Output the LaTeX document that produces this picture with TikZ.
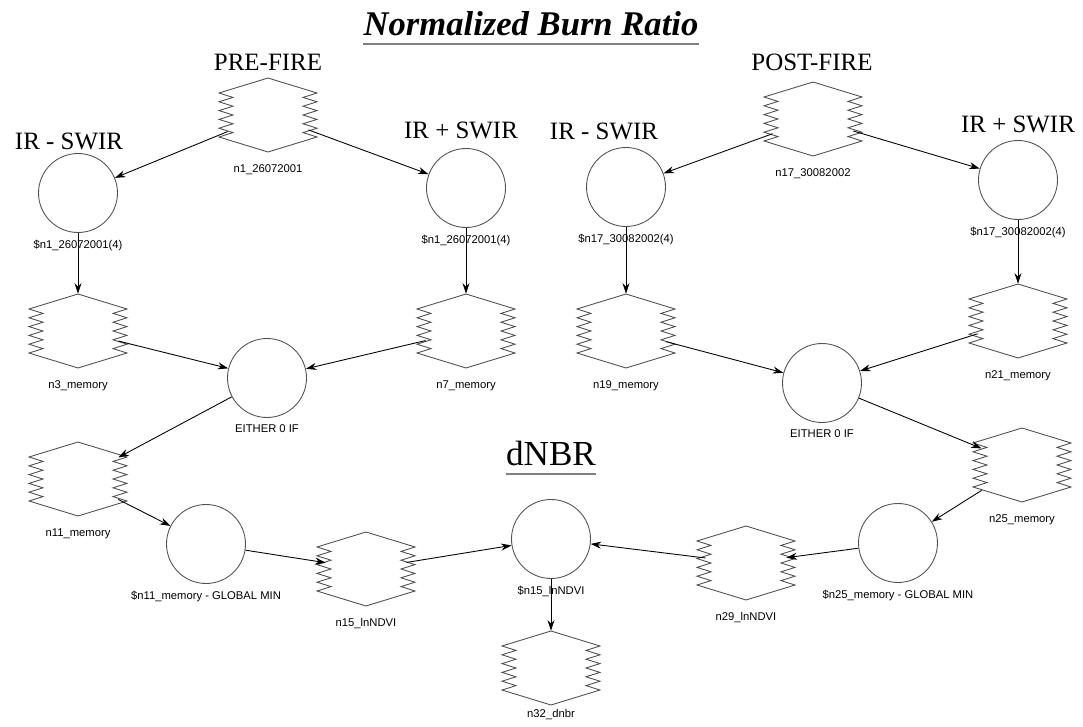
\documentclass[tikz,border=0pt]{standalone}
\usepackage{fontspec}
\setmainfont{Liberation Serif}
\setsansfont{Liberation Sans}
\usetikzlibrary{arrows.meta,calc,positioning}
\definecolor{shapeColor}{RGB}{80,80,80}
\definecolor{ruleColor}{RGB}{128,128,128}
\tikzset{memory/.style={minimum width=1.6cm, minimum height=1.48cm, inner sep=0pt}}
\tikzset{operation/.style={circle, draw=shapeColor, line width=0.5pt, minimum size=1.58cm, inner sep=0pt}}
\tikzset{tag/.style={font=\sffamily\fontsize{6.4}{7}\selectfont, inner sep=0pt}}
\tikzset{memtag/.style={tag, label distance=0.24cm}}
\tikzset{optag/.style={tag, label distance=0.13cm}}
\tikzset{heading/.style={font=\fontsize{14.2}{16}\selectfont, inner sep=0pt, anchor=base}}
\tikzset{hexline/.style={draw=shapeColor, line width=0.5pt}}
\tikzstyle{arrow} = [-{Stealth[length=6pt,width=4pt]}, line width=0.5pt]
\newcommand{\zighex}[1]{%
  \draw[hexline] ($(#1)+(0,-37)$) -- ($(#1)+(49,-22)$)
    \foreach \k in {1,...,10}{ -- ($(#1)+({49-14*mod(\k,2)},{-22+4.4*\k})$)}
    -- ($(#1)+(0,37)$) -- ($(#1)+(-49,22)$)
    \foreach \k in {1,...,10}{ -- ($(#1)+({-49+14*mod(\k,2)},{22-4.4*\k})$)}
    -- cycle;}

\begin{document}
\begin{tikzpicture}[x=0.02cm, y=-0.02cm]
	\useasboundingbox (0,0) rectangle (1083,727);

	% Titles
	\node (maintitle) [heading, font=\fontsize{19.7}{22}\selectfont\bfseries\itshape] at (531,35) {Normalized Burn Ratio};
	\draw[ruleColor, line width=1.4pt] ([yshift=-0.18cm]maintitle.base west) -- ([yshift=-0.18cm]maintitle.base east);
	\node (dnbrtitle) [heading, font=\fontsize{20}{22}\selectfont] at (551,465) {dNBR};
	\draw[ruleColor, line width=1.4pt] ([yshift=-0.18cm]dnbrtitle.base west) -- ([yshift=-0.18cm]dnbrtitle.base east);

	\node (pretitle) [heading] at (268,70) {PRE-FIRE};
	\node (posttitle) [heading] at (812,70) {POST-FIRE};
	\node (preminustitle) [heading] at (69,149) {IR - SWIR};
	\node (preplustitle) [heading] at (461,138) {IR + SWIR};
	\node (postminustitle) [heading] at (604,139) {IR - SWIR};
	\node (postplustitle) [heading] at (1018,132) {IR + SWIR};

	% Nodes
	\node (pre) [memory, label={[memtag]below:n1\_26072001}] at (268,115) {};
	\node (post) [memory, label={[memtag]below:n17\_30082002}] at (813,119) {};

	\node (preminus) [operation, label={[optag]below:{\$n1\_26072001(4)}}] at (78,193) {};
	\node (preplus) [operation, label={[optag]below:{\$n1\_26072001(4)}}] at (466,188) {};
	\node (postminus) [operation, label={[optag]below:{\$n17\_30082002(4)}}] at (626,187) {};
	\node (postplus) [operation, label={[optag]below:{\$n17\_30082002(4)}}] at (1018,180) {};

	\node (n3) [memory, label={[memtag]below:n3\_memory}] at (78,331) {};
	\node (n7) [memory, label={[memtag]below:n7\_memory}] at (466,331) {};
	\node (n19) [memory, label={[memtag]below:n19\_memory}] at (626,331) {};
	\node (n21) [memory, label={[memtag]below:n21\_memory}] at (1018,321) {};

	\node (eitherA) [operation, label={[optag]below:EITHER 0 IF}] at (267,378) {};
	\node (eitherB) [operation, label={[optag]below:EITHER 0 IF}] at (822,383) {};

	\node (n11) [memory, label={[memtag]below:n11\_memory}] at (78,479) {};
	\node (n25) [memory, label={[memtag]below:n25\_memory}] at (1022,465) {};

	\node (globA) [operation, label={[optag]below:{\$n11\_memory - GLOBAL MIN}}] at (206,544) {};
	\node (globB) [operation, label={[optag]below:{\$n25\_memory - GLOBAL MIN}}] at (898,543) {};

	\node (n15) [memory, label={[memtag]below:n15\_lnNDVI}] at (366,569) {};
	\node (n29) [memory, label={[memtag]below:n29\_lnNDVI}] at (746,563) {};

	\node (lnndvi) [operation, label={[optag]below:{\$n15\_lnNDVI}}] at (551,539) {};
	\node (n32) [memory, label={[tag, label distance=0.08cm]below:n32\_dnbr}] at (551,668) {};

	\foreach \n in {pre,post,n3,n7,n19,n21,n11,n25,n15,n29,n32}
		\zighex{\n};

	% Connectors
	\begin{scope}[arrow]
		\draw (pre) -- (preminus);
		\draw (pre) -- (preplus);
		\draw (preminus) -- (n3);
		\draw (preplus) -- (n7);
		\draw (n3) -- (eitherA);
		\draw (n7) -- (eitherA);
		\draw (eitherA) -- (n11);
		\draw (n11) -- (globA);
		\draw (globA) -- (n15);
		\draw (n15) -- (lnndvi);

		\draw (post) -- (postminus);
		\draw (post) -- (postplus);
		\draw (postminus) -- (n19);
		\draw (postplus) -- (n21);
		\draw (n19) -- (eitherB);
		\draw (n21) -- (eitherB);
		\draw (eitherB) -- (n25);
		\draw (n25) -- (globB);
		\draw (globB) -- (n29);
		\draw (n29) -- (lnndvi);

		\draw (lnndvi) -- (n32);
	\end{scope}

\end{tikzpicture}
\end{document}
